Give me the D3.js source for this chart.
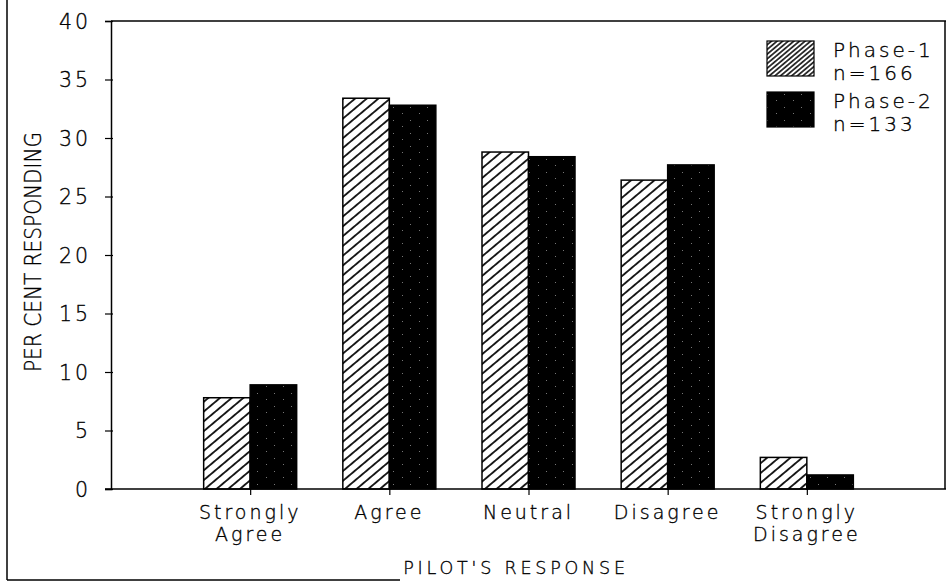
<!DOCTYPE html>
<html>
<head>
<meta charset="utf-8">
<script src="https://cdn.jsdelivr.net/npm/d3@7"></script>
<style>
  html, body { margin: 0; padding: 0; background: #fff; }
  svg { display: block; }
  text { font-family: "DejaVu Sans", sans-serif; font-weight: 200; fill: #000; stroke: #000; stroke-width: 0.35px; }
</style>
</head>
<body>
<svg id="chart" width="948" height="583"></svg>
<script>
// ---- data ----
const categories = ["Strongly Agree", "Agree", "Neutral", "Disagree", "Strongly Disagree"];
const categoryLines = [["Strongly", "Agree"], ["Agree"], ["Neutral"], ["Disagree"], ["Strongly", "Disagree"]];
const phase1 = [7.8, 33.4, 28.8, 26.4, 2.7];
const phase2 = [8.9, 32.8, 28.4, 27.7, 1.2];
const seriesNames = ["Phase-1", "Phase-2"];
const seriesN = ["n=166", "n=133"];
const yTicks = [0, 5, 10, 15, 20, 25, 30, 35, 40];
const yTitle = "PER CENT RESPONDING";
const xTitle = "PILOT'S RESPONSE";

// ---- layout ----
const svg = d3.select("#chart");
const plot = { left: 111, right: 946, top: 21, bottom: 489 };
const barW = 46.5;

const x = d3.scaleLinear().domain([0, categories.length + 1]).range([plot.left, plot.right]);
const y = d3.scaleLinear().domain([0, 40]).range([plot.bottom, plot.top]);

// ---- patterns ----
const defs = svg.append("defs");
function hatch(id, spacing, width) {
  const p = defs.append("pattern").attr("id", id)
    .attr("patternUnits", "userSpaceOnUse")
    .attr("width", 20).attr("height", spacing)
    .attr("patternTransform", "rotate(-40)");
  p.append("rect").attr("width", 20).attr("height", spacing).attr("fill", "#fff");
  p.append("line").attr("x1", 0).attr("x2", 20).attr("y1", spacing / 2).attr("y2", spacing / 2)
    .attr("stroke", "#000").attr("stroke-width", width);
}
hatch("hatch", 7.5, 1.7);
hatch("hatchDense", 3.6, 1.5);

const sp = defs.append("pattern").attr("id", "speckle")
  .attr("patternUnits", "userSpaceOnUse").attr("width", 17).attr("height", 13);
sp.append("rect").attr("width", 17).attr("height", 13).attr("fill", "#000");
[[2, 3], [11, 9]].forEach(d =>
  sp.append("rect").attr("x", d[0]).attr("y", d[1]).attr("width", 1).attr("height", 1).attr("fill", "#777"));

// ---- outer frame (partial) ----
svg.append("line").attr("x1", 7).attr("x2", 7).attr("y1", 0).attr("y2", 580)
  .attr("stroke", "#000").attr("stroke-width", 1.5);
svg.append("line").attr("x1", 7).attr("x2", 400).attr("y1", 580).attr("y2", 580)
  .attr("stroke", "#000").attr("stroke-width", 1.5);

// ---- plot frame ----
svg.append("line").attr("x1", plot.left).attr("x2", plot.right).attr("y1", plot.top).attr("y2", plot.top)
  .attr("stroke", "#000").attr("stroke-width", 1.5);
svg.append("line").attr("x1", plot.right - 1).attr("x2", plot.right - 1).attr("y1", plot.top).attr("y2", plot.bottom)
  .attr("stroke", "#000").attr("stroke-width", 1.5);

// ---- bars ----
const data = categories.map((c, i) => ({ i, c, p1: phase1[i], p2: phase2[i] }));
const g = svg.append("g");
g.selectAll("rect.p1").data(data).join("rect").attr("class", "p1")
  .attr("x", d => x(d.i + 1) - barW).attr("width", barW)
  .attr("y", d => y(d.p1)).attr("height", d => y(0) - y(d.p1))
  .attr("fill", "url(#hatch)").attr("stroke", "#000").attr("stroke-width", 1.5);
g.selectAll("rect.p2").data(data).join("rect").attr("class", "p2")
  .attr("x", d => x(d.i + 1)).attr("width", barW)
  .attr("y", d => y(d.p2)).attr("height", d => y(0) - y(d.p2))
  .attr("fill", "url(#speckle)").attr("stroke", "#000").attr("stroke-width", 1.5);

// ---- y axis ----
const yAxis = svg.append("g").attr("transform", `translate(${plot.left},0)`)
  .call(d3.axisLeft(y).tickValues(yTicks).tickSize(6).tickPadding(14).tickFormat(d3.format("d")));
yAxis.select(".domain").attr("stroke-width", 1.5);
yAxis.selectAll(".tick line").attr("x1", 2).attr("stroke-width", 1.2);
yAxis.selectAll(".tick text").attr("font-size", 20.5).attr("letter-spacing", 3)
  .style("font-family", "DejaVu Sans").style("font-weight", 200).attr("dy", "0.36em");

// ---- x axis ----
const xAxis = svg.append("g").attr("transform", `translate(0,${plot.bottom})`)
  .call(d3.axisBottom(x).tickValues(d3.range(1, categories.length + 1)).tickSize(6).tickFormat(""));
xAxis.select(".domain").remove();
svg.append("line").attr("x1", plot.left - 6).attr("x2", plot.right).attr("y1", plot.bottom).attr("y2", plot.bottom)
  .attr("stroke", "#000").attr("stroke-width", 1.5);
xAxis.selectAll(".tick line").attr("stroke-width", 1.2);

const labels = svg.append("g");
data.forEach(d => {
  categoryLines[d.i].forEach((ln, k) => {
    labels.append("text").attr("x", x(d.i + 1)).attr("y", 519 + k * 22)
      .attr("text-anchor", "middle").attr("font-size", 19).attr("letter-spacing", 3)
      .text(ln);
  });
});

// ---- titles ----
svg.append("text").attr("x", 516).attr("y", 574).attr("text-anchor", "middle")
  .attr("font-size", 17.5).attr("letter-spacing", 3.8).text(xTitle);
svg.append("text").attr("transform", "translate(41,252) rotate(-90)")
  .attr("text-anchor", "middle").attr("font-size", 23)
  .attr("textLength", 240).attr("lengthAdjust", "spacingAndGlyphs").text(yTitle);

// ---- legend ----
const legend = svg.append("g");
const legendRows = [
  { fill: "url(#hatchDense)", name: seriesNames[0], n: seriesN[0], y: 41 },
  { fill: "url(#speckle)", name: seriesNames[1], n: seriesN[1], y: 92 }
];
legendRows.forEach(r => {
  legend.append("rect").attr("x", 767).attr("y", r.y).attr("width", 47).attr("height", 35)
    .attr("fill", r.fill).attr("stroke", "#000").attr("stroke-width", 1.2);
  legend.append("text").attr("x", 833).attr("y", r.y + 16).attr("font-size", 20)
    .attr("letter-spacing", 3).text(r.name);
  legend.append("text").attr("x", 833).attr("y", r.y + 39).attr("font-size", 20)
    .attr("letter-spacing", 3).text(r.n);
});
</script>
</body>
</html>
